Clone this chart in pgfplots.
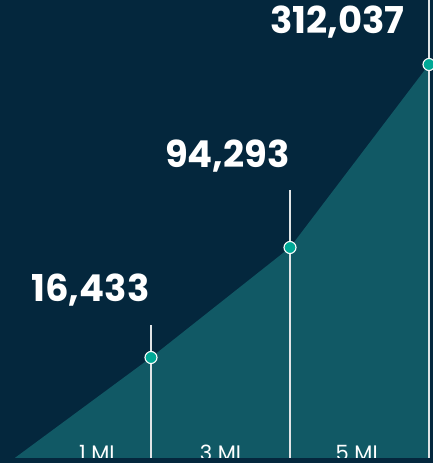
\documentclass[border=0pt]{standalone}
\usepackage{pgfplots}
\pgfplotsset{compat=1.18}
\usepackage{fontspec}
\setmainfont{Poppins}
\definecolor{navy}{RGB}{4,39,61}
\definecolor{area}{RGB}{17,89,101}
\definecolor{dot}{RGB}{0,168,150}
\definecolor{rule}{RGB}{225,228,230}

\begin{document}
\begin{tikzpicture}
\begin{axis}[
    scale only axis, width=433pt, height=463pt,
    xmin=-1.1727, xmax=5.0576, ymin=-4.5, ymax=458.5,
    hide axis, clip=false]
% background
\fill[navy] (axis cs:-1.1727,-4.5) rectangle (axis cs:5.0576,458.5);
% filled area (heights as drawn)
\addplot[fill=area, draw=none] coordinates {(-0.97,0) (1,101) (3,211) (5,394) (5,0)} \closedcycle;
% stems
\addplot[rule, line width=1.1pt, ycomb] coordinates {(1,133) (3,268) (5,458.5)};
% markers
\addplot[only marks, mark=*, mark size=6pt, mark options={fill=dot, draw=white, line width=1.1pt}]
    coordinates {(1,101) (3,211) (5,394)};
% value labels
\node[anchor=base east, text=white, inner xsep=0pt, font=\bfseries\fontsize{37}{37}\selectfont] at (axis cs:0.98,157) {16,433};
\node[anchor=base east, text=white, inner xsep=0pt, font=\bfseries\fontsize{37}{37}\selectfont] at (axis cs:3.0,291) {94,293};
\node[anchor=base east, text=white, inner xsep=0pt, font=\bfseries\fontsize{37}{37}\selectfont] at (axis cs:4.65,425) {312,037};
% mile labels (cut by the baseline, as in the source)
\node[anchor=base, text=white, font=\fontsize{21}{21}\selectfont] at (axis cs:0.22,-2) {1 MI};
\node[anchor=base, text=white, font=\fontsize{21}{21}\selectfont] at (axis cs:2.0,-2) {3 MI};
\node[anchor=base, text=white, font=\fontsize{21}{21}\selectfont] at (axis cs:3.96,-2) {5 MI};
\fill[navy] (axis cs:-1.1727,-4.5) rectangle (axis cs:5.0576,0);
\end{axis}
\pgfresetboundingbox
\path[use as bounding box] (current axis.south west) rectangle (current axis.north east);
\end{tikzpicture}
\end{document}
